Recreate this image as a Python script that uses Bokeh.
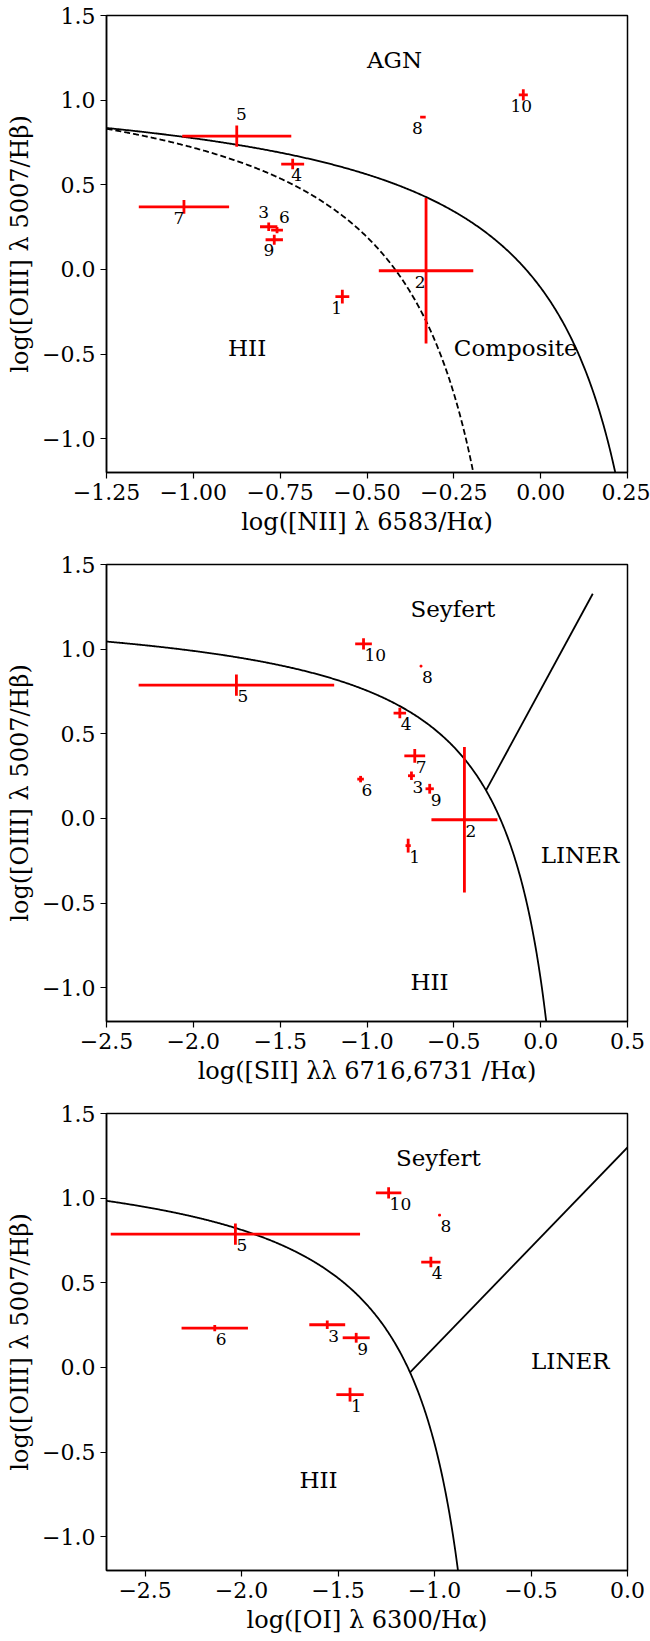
import numpy as np
from bokeh.plotting import figure
from bokeh.layouts import column
from bokeh.models import ColumnDataSource, FixedTicker, Range1d
from bokeh.core.properties import value
from bokeh.embed import file_html
from bokeh.resources import INLINE

# ---------------- data ----------------
ids = ["1", "2", "3", "4", "5", "6", "7", "8", "9", "10"]
oiii = [-0.161, -0.008, 0.252, 0.622, 0.787, 0.232, 0.369, 0.900, 0.175, 1.031]
oiii_err = [0.041, 0.43, 0.025, 0.031, 0.063, 0.019, 0.041, 0.005, 0.029, 0.033]
nii = [-0.571, -0.330, -0.783, -0.714, -0.875, -0.759, -1.027, -0.339, -0.767, -0.050]
nii_err = [0.020, 0.136, 0.025, 0.033, 0.157, 0.017, 0.130, 0.008, 0.025, 0.013]
sii = [-0.763, -0.439, -0.744, -0.811, -1.752, -1.037, -0.725, -0.689, -0.639, -1.020]
sii_err = [0.015, 0.19, 0.02, 0.036, 0.563, 0.019, 0.06, 0.005, 0.024, 0.048]
oi = [-1.438, None, -1.556, -1.019, -2.032, -2.139, None, -0.974, -1.406, -1.238]
oi_err = [0.071, None, 0.093, 0.050, 0.646, 0.172, None, 0.005, 0.070, 0.066]

# demarcation-line coefficients (Kewley 2001 / Kauffmann 2003 / Kewley 2006)
kew_nii = (0.61, 0.47, 1.19)
kau_nii = (0.61, 0.05, 1.30)
kew_sii = (0.72, 0.32, 1.30)
sey_sii = (1.89, 0.76)
kew_oi = (0.73, -0.59, 1.33)
sey_oi = (1.18, 1.30)

# region labels
reg1 = dict(text=["AGN", "HII", "Composite"], x=[-0.5, -0.9, -0.25], y=[1.2, -0.5, -0.5])
reg2 = dict(text=["Seyfert", "LINER", "HII"], x=[-0.75, 0.0, -0.75], y=[1.2, -0.25, -1.0])
reg3 = dict(text=["Seyfert", "LINER", "HII"], x=[-1.2, -0.5, -1.7], y=[1.2, 0.0, -0.7])

# ticks and tick labels
xt1 = [-1.25, -1.0, -0.75, -0.5, -0.25, 0.0, 0.25]
xl1 = ["\u22121.25", "\u22121.00", "\u22120.75", "\u22120.50", "\u22120.25", "0.00", "0.25"]
xt2 = [-2.5, -2.0, -1.5, -1.0, -0.5, 0.0, 0.5]
xl2 = ["\u22122.5", "\u22122.0", "\u22121.5", "\u22121.0", "\u22120.5", "0.0", "0.5"]
xt3 = [-2.5, -2.0, -1.5, -1.0, -0.5, 0.0]
xl3 = ["\u22122.5", "\u22122.0", "\u22121.5", "\u22121.0", "\u22120.5", "0.0"]
yt = [-1.0, -0.5, 0.0, 0.5, 1.0, 1.5]
yl = ["\u22121.0", "\u22120.5", "0.0", "0.5", "1.0", "1.5"]

# label pixel offsets (panel 1 individually placed)
dx1 = [-5.8, -5.8, -5.0, 4.1, 4.6, 7.4, -5.0, -5.4, -5.4, -2.1]
dy1 = [11.2, 11.2, -14.4, 10.9, -22.5, -13.3, 10.9, 10.9, 10.5, 11.2]

RED = "#ff0000"
FONT = "DejaVu Serif"


def make_fig(xr, xticks, xlabels, xlabel, height, bottom):
    p = figure(width=650, height=height, output_backend="svg", toolbar_location=None,
               x_range=Range1d(*xr), y_range=Range1d(-1.2, 1.5),
               min_border_left=106, min_border_right=23, min_border_top=15,
               min_border_bottom=bottom, background_fill_color="white",
               border_fill_color="white")
    p.grid.visible = False
    p.outline_line_color = "black"
    p.outline_line_width = 1.5
    p.outline_line_alpha = 1.0
    p.xaxis.ticker = FixedTicker(ticks=xticks)
    p.yaxis.ticker = FixedTicker(ticks=yt)
    p.xaxis.major_label_overrides = {t: s for t, s in zip(xticks, xlabels)}
    p.yaxis.major_label_overrides = {t: s for t, s in zip(yt, yl)}
    p.xaxis.axis_label = xlabel
    p.yaxis.axis_label = "log([OIII] λ 5007/Hβ)"
    for ax in (p.xaxis[0], p.yaxis[0]):
        ax.axis_line_width = 1.5
        ax.axis_line_color = "black"
        ax.major_tick_out = 6
        ax.major_tick_in = 0
        ax.minor_tick_out = 0
        ax.minor_tick_in = 0
        ax.major_tick_line_width = 1.2
        ax.major_tick_line_color = "black"
        ax.major_label_text_font = FONT
        ax.major_label_text_font_size = "22px"
        ax.major_label_text_color = "black"
        ax.major_label_standoff = 5
        ax.axis_label_text_font = FONT
        ax.axis_label_text_font_size = "24px"
        ax.axis_label_text_font_style = "normal"
        ax.axis_label_text_color = "black"
        ax.axis_label_standoff = 5
    return p


def add_points(p, xs, xe, labels_dx=None, labels_dy=None):
    keep = [i for i in range(len(ids)) if xs[i] is not None]
    x = [xs[i] for i in keep]
    e = [xe[i] for i in keep]
    y = [oiii[i] for i in keep]
    ye = [oiii_err[i] for i in keep]
    lab = [ids[i] for i in keep]
    src = ColumnDataSource(dict(
        x=x, y=y, x0=[a - b for a, b in zip(x, e)], x1=[a + b for a, b in zip(x, e)],
        y0=[a - b for a, b in zip(y, ye)], y1=[a + b for a, b in zip(y, ye)], lab=lab,
    ))
    p.segment(x0="x0", y0="y", x1="x1", y1="y", source=src, line_color=RED, line_width=2.8)
    p.segment(x0="x", y0="y0", x1="x", y1="y1", source=src, line_color=RED, line_width=2.8)
    if labels_dx is not None:
        src.data["dx"] = [labels_dx[i] for i in keep]
        src.data["dy"] = [labels_dy[i] for i in keep]
        p.text(x="x", y="y", text="lab", source=src, x_offset="dx", y_offset="dy",
               text_align="center", text_baseline="middle", text_font=value(FONT),
               text_font_size="17px", text_color="black")
    else:
        p.text(x="x", y="y", text="lab", source=src, x_offset=1, y_offset=11,
               text_align="left", text_baseline="middle", text_font=value(FONT),
               text_font_size="17px", text_color="black")


def add_regions(p, reg):
    p.text(x="x", y="y", text="text", source=ColumnDataSource(reg), text_align="left",
           text_baseline="alphabetic", y_offset=-6, text_font=value(FONT),
           text_font_size="23px", text_color="black")


def curve(c, x0, ymin=-1.3):
    a, b, d = c
    x_end = a / (ymin - d) + b
    x = np.linspace(x0, x_end, 500)
    return x, a / (x - b) + d


def line_intersect(c, s):
    a, b, d = c
    m, k = s
    r = np.roots([m, (k - d) - m * b, -(k - d) * b - a])
    r = r[np.isreal(r)].real
    return r.min()


# ---------------- panel 1 : [NII] ----------------
p1 = make_fig((-1.25, 0.25), xt1, xl1, "log([NII] λ 6583/Hα)", 549, 77)
xk, yk = curve(kew_nii, -1.25)
p1.line(xk, yk, line_color="black", line_width=1.8)
xa, ya = curve(kau_nii, -1.25)
p1.line(xa, ya, line_color="black", line_width=1.8, line_dash="6 3")
add_points(p1, nii, nii_err, dx1, dy1)
add_regions(p1, reg1)

# ---------------- panel 2 : [SII] ----------------
p2 = make_fig((-2.5, 0.5), xt2, xl2, "log([SII] λλ 6716,6731 /Hα)", 549, 77)
xk, yk = curve(kew_sii, -2.5)
p2.line(xk, yk, line_color="black", line_width=1.8)
xi = line_intersect(kew_sii, sey_sii)
xs_ = np.array([xi, 0.3])
p2.line(xs_, sey_sii[0] * xs_ + sey_sii[1], line_color="black", line_width=1.8)
add_points(p2, sii, sii_err)
add_regions(p2, reg2)

# ---------------- panel 3 : [OI] ----------------
p3 = make_fig((-2.7, 0.0), xt3, xl3, "log([OI] λ 6300/Hα)", 543, 71)
xk, yk = curve(kew_oi, -2.7)
p3.line(xk, yk, line_color="black", line_width=1.8)
xi = line_intersect(kew_oi, sey_oi)
xs_ = np.array([xi, 0.0])
p3.line(xs_, sey_oi[0] * xs_ + sey_oi[1], line_color="black", line_width=1.8)
add_points(p3, oi, oi_err)
add_regions(p3, reg3)

layout = column(p1, p2, p3, spacing=0)
open("out.html", "w", encoding="utf-8").write(file_html(layout, INLINE))
